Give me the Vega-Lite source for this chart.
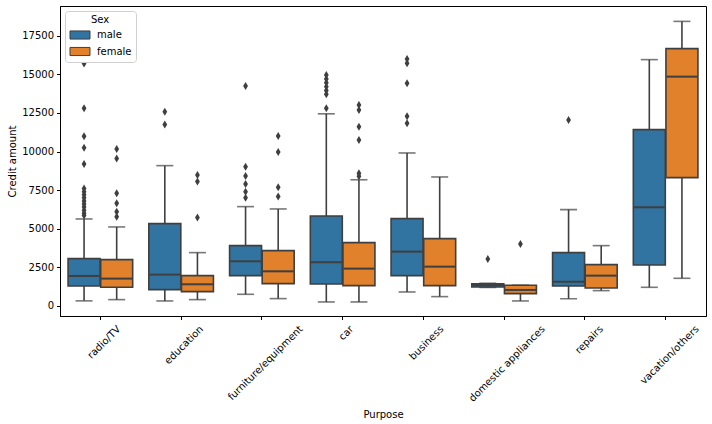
{
  "$schema": "https://vega.github.io/schema/vega-lite/v6.json",
  "width": 646,
  "height": 310,
  "autosize": {"type": "none"},
  "padding": {"left": 60, "top": 6, "right": 6, "bottom": 108},
  "background": "white",
  "config": {
    "font": "DejaVu Sans",
    "view": {"stroke": "black", "strokeWidth": 1},
    "axis": {
      "grid": false,
      "domainColor": "black",
      "tickColor": "black",
      "labelColor": "black",
      "titleColor": "black",
      "labelFontSize": 10,
      "titleFontSize": 10,
      "titleFontWeight": "normal",
      "tickSize": 3.5,
      "labelPadding": 3
    }
  },
  "datasets": {
    "stats": [
      {"Purpose": "radio/TV", "Sex": "male", "lower": 330, "q1": 1295, "median": 1942, "q3": 3064, "upper": 5632},
      {"Purpose": "radio/TV", "Sex": "female", "lower": 410, "q1": 1208, "median": 1770, "q3": 3000, "upper": 5115},
      {"Purpose": "education", "Sex": "male", "lower": 324, "q1": 1057, "median": 2028, "q3": 5330, "upper": 9085},
      {"Purpose": "education", "Sex": "female", "lower": 410, "q1": 928, "median": 1403, "q3": 1964, "upper": 3453},
      {"Purpose": "furniture/equipment", "Sex": "male", "lower": 755, "q1": 1964, "median": 2892, "q3": 3906, "upper": 6431},
      {"Purpose": "furniture/equipment", "Sex": "female", "lower": 475, "q1": 1446, "median": 2244, "q3": 3582, "upper": 6280},
      {"Purpose": "car", "Sex": "male", "lower": 259, "q1": 1424, "median": 2827, "q3": 5827, "upper": 12440},
      {"Purpose": "car", "Sex": "female", "lower": 259, "q1": 1316, "median": 2417, "q3": 4100, "upper": 8170},
      {"Purpose": "business", "Sex": "male", "lower": 906, "q1": 1964, "median": 3518, "q3": 5654, "upper": 9905},
      {"Purpose": "business", "Sex": "female", "lower": 604, "q1": 1316, "median": 2546, "q3": 4359, "upper": 8351},
      {"Purpose": "domestic appliances", "Sex": "male", "lower": 1200, "q1": 1230, "median": 1350, "q3": 1440, "upper": 1470},
      {"Purpose": "domestic appliances", "Sex": "female", "lower": 324, "q1": 796, "median": 1036, "q3": 1340, "upper": 1340},
      {"Purpose": "repairs", "Sex": "male", "lower": 470, "q1": 1295, "median": 1575, "q3": 3453, "upper": 6237},
      {"Purpose": "repairs", "Sex": "female", "lower": 993, "q1": 1165, "median": 1964, "q3": 2676, "upper": 3906},
      {"Purpose": "vacation/others", "Sex": "male", "lower": 1208, "q1": 2654, "median": 6388, "q3": 11416, "upper": 15948},
      {"Purpose": "vacation/others", "Sex": "female", "lower": 1791, "q1": 8308, "median": 14847, "q3": 16660, "upper": 18424}
    ],
    "outliers": [
      {"Purpose": "radio/TV", "Sex": "male", "value": 5850},
      {"Purpose": "radio/TV", "Sex": "male", "value": 6000},
      {"Purpose": "radio/TV", "Sex": "male", "value": 6200},
      {"Purpose": "radio/TV", "Sex": "male", "value": 6400},
      {"Purpose": "radio/TV", "Sex": "male", "value": 6600},
      {"Purpose": "radio/TV", "Sex": "male", "value": 6800},
      {"Purpose": "radio/TV", "Sex": "male", "value": 7000},
      {"Purpose": "radio/TV", "Sex": "male", "value": 7200},
      {"Purpose": "radio/TV", "Sex": "male", "value": 7400},
      {"Purpose": "radio/TV", "Sex": "male", "value": 7600},
      {"Purpose": "radio/TV", "Sex": "male", "value": 9190},
      {"Purpose": "radio/TV", "Sex": "male", "value": 10250},
      {"Purpose": "radio/TV", "Sex": "male", "value": 10980},
      {"Purpose": "radio/TV", "Sex": "male", "value": 12800},
      {"Purpose": "radio/TV", "Sex": "male", "value": 15690},
      {"Purpose": "radio/TV", "Sex": "female", "value": 5780},
      {"Purpose": "radio/TV", "Sex": "female", "value": 6100},
      {"Purpose": "radio/TV", "Sex": "female", "value": 6650},
      {"Purpose": "radio/TV", "Sex": "female", "value": 7300},
      {"Purpose": "radio/TV", "Sex": "female", "value": 9540},
      {"Purpose": "radio/TV", "Sex": "female", "value": 10160},
      {"Purpose": "education", "Sex": "male", "value": 11740},
      {"Purpose": "education", "Sex": "male", "value": 12580},
      {"Purpose": "education", "Sex": "female", "value": 5720},
      {"Purpose": "education", "Sex": "female", "value": 8050},
      {"Purpose": "education", "Sex": "female", "value": 8480},
      {"Purpose": "furniture/equipment", "Sex": "male", "value": 7010},
      {"Purpose": "furniture/equipment", "Sex": "male", "value": 7400},
      {"Purpose": "furniture/equipment", "Sex": "male", "value": 7900},
      {"Purpose": "furniture/equipment", "Sex": "male", "value": 8420},
      {"Purpose": "furniture/equipment", "Sex": "male", "value": 9020},
      {"Purpose": "furniture/equipment", "Sex": "male", "value": 14240},
      {"Purpose": "furniture/equipment", "Sex": "female", "value": 7080},
      {"Purpose": "furniture/equipment", "Sex": "female", "value": 7680},
      {"Purpose": "furniture/equipment", "Sex": "female", "value": 9970},
      {"Purpose": "furniture/equipment", "Sex": "female", "value": 11010},
      {"Purpose": "car", "Sex": "male", "value": 12800},
      {"Purpose": "car", "Sex": "male", "value": 13700},
      {"Purpose": "car", "Sex": "male", "value": 13950},
      {"Purpose": "car", "Sex": "male", "value": 14200},
      {"Purpose": "car", "Sex": "male", "value": 14450},
      {"Purpose": "car", "Sex": "male", "value": 14700},
      {"Purpose": "car", "Sex": "male", "value": 14950},
      {"Purpose": "car", "Sex": "female", "value": 8400},
      {"Purpose": "car", "Sex": "female", "value": 8600},
      {"Purpose": "car", "Sex": "female", "value": 10750},
      {"Purpose": "car", "Sex": "female", "value": 11600},
      {"Purpose": "car", "Sex": "female", "value": 12690},
      {"Purpose": "car", "Sex": "female", "value": 13010},
      {"Purpose": "business", "Sex": "male", "value": 11830},
      {"Purpose": "business", "Sex": "male", "value": 12280},
      {"Purpose": "business", "Sex": "male", "value": 14420},
      {"Purpose": "business", "Sex": "male", "value": 15710},
      {"Purpose": "business", "Sex": "male", "value": 15990},
      {"Purpose": "domestic appliances", "Sex": "male", "value": 3040},
      {"Purpose": "domestic appliances", "Sex": "female", "value": 4010},
      {"Purpose": "repairs", "Sex": "male", "value": 12040}
    ]
  },
  "encoding": {
    "x": {
      "field": "Purpose",
      "type": "nominal",
      "sort": ["radio/TV", "education", "furniture/equipment", "car", "business", "domestic appliances", "repairs", "vacation/others"],
      "scale": {"paddingInner": 0.2, "paddingOuter": 0.1},
      "axis": {
        "labelAngle": -45,
        "labelAlign": "right",
        "labelBaseline": "top",
        "labelPadding": 4,
        "labelOffset": {"expr": "length(datum.label) * 1.88"},
        "title": "Purpose",
        "titlePadding": 6
      }
    },
    "xOffset": {
      "field": "Sex",
      "type": "nominal",
      "sort": ["male", "female"],
      "scale": {"domain": ["male", "female"], "paddingInner": 0.02, "paddingOuter": 0}
    }
  },
  "layer": [
    {
      "data": {"name": "stats"},
      "mark": {"type": "rule", "color": "#3f3f3f", "strokeWidth": 1.6},
      "encoding": {
        "y": {
          "field": "lower",
          "type": "quantitative",
          "title": "Credit amount",
          "scale": {"domain": [-650, 19420], "nice": false, "zero": false},
          "axis": {"values": [0, 2500, 5000, 7500, 10000, 12500, 15000, 17500], "format": "d", "titlePadding": 4}
        },
        "y2": {"field": "upper"}
      }
    },
    {
      "data": {"name": "stats"},
      "mark": {"type": "tick", "color": "#3f3f3f", "size": 17, "thickness": 1.6},
      "encoding": {
        "y": {"field": "lower", "type": "quantitative", "title": "Credit amount"}
      }
    },
    {
      "data": {"name": "stats"},
      "mark": {"type": "tick", "color": "#3f3f3f", "size": 17, "thickness": 1.6},
      "encoding": {
        "y": {"field": "upper", "type": "quantitative", "title": "Credit amount"}
      }
    },
    {
      "data": {"name": "stats"},
      "mark": {"type": "bar", "stroke": "#3f3f3f", "strokeWidth": 1.6, "opacity": 1},
      "encoding": {
        "y": {"field": "q1", "type": "quantitative", "title": "Credit amount"},
        "y2": {"field": "q3"},
        "color": {
          "field": "Sex",
          "type": "nominal",
          "scale": {"domain": ["male", "female"], "range": ["#3274a1", "#e1812c"]},
          "legend": {
            "orient": "top-left",
            "offset": 5,
            "title": "Sex",
            "titleFontSize": 10,
            "titleFontWeight": "normal",
            "titleColor": "black",
            "titleAnchor": "middle",
            "titlePadding": 3,
            "labelFontSize": 10,
            "labelColor": "black",
            "labelOffset": 10,
            "symbolType": "M-1.6,-0.65H1.6V0.65H-1.6Z",
            "symbolSize": 156,
            "symbolOffset": 4,
            "symbolStrokeColor": "#3f3f3f",
            "symbolStrokeWidth": 1,
            "symbolOpacity": 1,
            "rowPadding": 2.5,
            "padding": 4,
            "fillColor": "white",
            "strokeColor": "#d0d0d0",
            "cornerRadius": 3
          }
        }
      }
    },
    {
      "data": {"name": "stats"},
      "mark": {"type": "tick", "color": "#3f3f3f", "size": 31, "thickness": 2, "opacity": 1},
      "encoding": {
        "y": {"field": "median", "type": "quantitative", "title": "Credit amount"}
      }
    },
    {
      "data": {"name": "outliers"},
      "mark": {"type": "point", "shape": "M0,-1L0.6,0L0,1L-0.6,0Z", "filled": true, "color": "#3f3f3f", "size": 64, "opacity": 1},
      "encoding": {
        "y": {"field": "value", "type": "quantitative", "title": "Credit amount"}
      }
    }
  ]
}
